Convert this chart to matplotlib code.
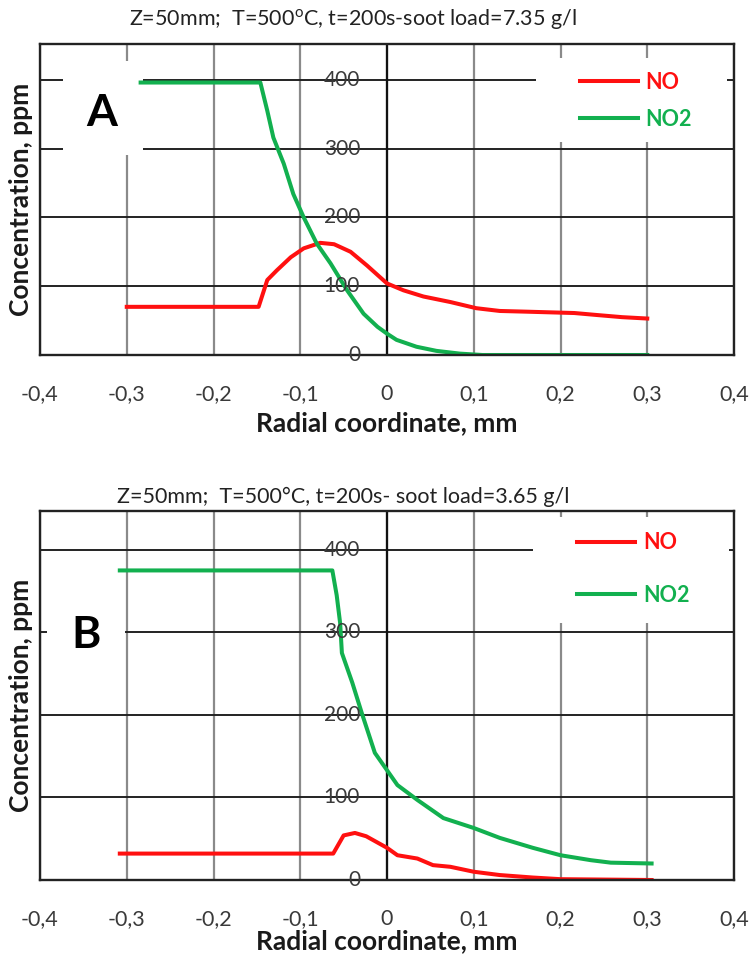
import matplotlib
matplotlib.use("Agg")
import matplotlib.pyplot as plt
from matplotlib.patches import Rectangle

plt.rcParams['font.family'] = ['Lato', 'DejaVu Sans']
plt.rcParams['mathtext.default'] = 'regular'

# Panel A data (soot load 7.35 g/l)
a_no_x = [-0.30, -0.148, -0.138, -0.127, -0.111, -0.096, -0.077, -0.061, -0.042,
          -0.023, 0.0, 0.019, 0.042, 0.073, 0.103, 0.13, 0.16, 0.216, 0.243, 0.271, 0.30]
a_no_y = [70, 70, 109, 123, 142, 155, 163, 161, 150,
          130, 104, 94, 85, 77, 68, 64, 63, 61, 58, 55, 53]
a_no2_x = [-0.284, -0.146, -0.138, -0.131, -0.119, -0.108, -0.096, -0.081, -0.065,
           -0.046, -0.027, -0.011, 0.0, 0.011, 0.034, 0.057, 0.084, 0.11, 0.30]
a_no2_y = [396, 396, 355, 316, 278, 234, 200, 162, 133,
           94, 60, 41, 31, 22, 12, 6, 2, 0, 0]

# Panel B data (soot load 3.65 g/l)
b_no_x = [-0.308, -0.062, -0.05, -0.037, -0.024, 0.0, 0.012, 0.035, 0.053, 0.073,
          0.1, 0.13, 0.168, 0.2, 0.305]
b_no_y = [32, 32, 54, 57, 53, 39, 30, 26, 18, 16, 10, 6, 3, 1, 0]
b_no2_x = [-0.308, -0.063, -0.058, -0.054, -0.052, -0.04, -0.029, -0.014, 0.0, 0.012,
           0.035, 0.065, 0.1, 0.13, 0.168, 0.2, 0.235, 0.258, 0.305]
b_no2_y = [375, 375, 345, 311, 275, 239, 202, 154, 133, 115,
           97, 75, 63, 51, 39, 30, 24, 21, 20]

x_ticks = [-0.4, -0.3, -0.2, -0.1, 0.0, 0.1, 0.2, 0.3, 0.4]
x_labels = ['-0,4', '-0,3', '-0,2', '-0,1', '0', '0,1', '0,2', '0,3', '0,4']
y_ticks = [0, 100, 200, 300, 400]

title_a = 'Z=50mm;  T=500$^{o}$C, t=200s-soot load=7.35 g/l'
title_b = 'Z=50mm;  T=500°C, t=200s- soot load=3.65 g/l'

RED = '#ff1010'
GREEN = '#12b04f'
TXT = '#3a3a3a'


def draw_panel(ax, ymax, no, no2, tag, tag_box, tag_pos, leg_box, leg_anchor,
               leg_space, xlab_pad):
    ax.set_xlim(-0.4, 0.4)
    ax.set_ylim(0, ymax)
    ax.set_xticks(x_ticks)
    ax.set_xticklabels(x_labels, fontsize=15.5, color=TXT)
    ax.set_yticks(y_ticks)
    ax.tick_params(axis='x', length=0, pad=21)
    ax.tick_params(axis='y', length=0, labelleft=False)
    ax.set_axisbelow(True)
    ax.xaxis.grid(True, color='#8a8a8a', lw=1.6)
    ax.yaxis.grid(True, color='#222222', lw=1.4)
    ax.axvline(0, color='#111111', lw=1.6, zorder=0.6)
    for s in ax.spines.values():
        s.set_linewidth(1.7)
        s.set_color('#222222')

    for v in y_ticks:
        ax.text(-0.031, v, str(v), ha='right', va='center', fontsize=15,
                color=TXT, zorder=3)

    # white boxes behind the panel letter and the legend
    for (x0, x1, y0, y1) in [tag_box, leg_box]:
        ax.add_patch(Rectangle((x0, y0), x1 - x0, y1 - y0, facecolor='white',
                               edgecolor='none', zorder=1))
    ax.text(tag_pos[0], tag_pos[1], tag, fontsize=32, fontweight='bold',
            ha='center', va='center', zorder=3)

    ax.plot(no[0], no[1], color=RED, lw=2.9, label='NO', zorder=2)
    ax.plot(no2[0], no2[1], color=GREEN, lw=2.9, label='NO2', zorder=2)

    leg = ax.legend(loc='center left', bbox_to_anchor=leg_anchor, frameon=False,
                    borderpad=0, borderaxespad=0, handlelength=2.7,
                    handletextpad=0.35, labelspacing=leg_space,
                    prop={'size': 15.5, 'weight': 'bold'})
    for t, c in zip(leg.get_texts(), [RED, GREEN]):
        t.set_color(c)

    ax.set_xlabel('Radial coordinate, mm', fontsize=19, fontweight='bold',
                  color='#1a1a1a', labelpad=xlab_pad)
    ax.set_ylabel('Concentration, ppm', fontsize=19, fontweight='bold',
                  color='#1a1a1a')
    ax.yaxis.set_label_coords(-0.01, 0.5)


fig = plt.figure(figsize=(7.51, 9.58), dpi=100)
ax_a = fig.add_axes([40 / 751, 1 - 355 / 958, 694 / 751, 311 / 958])
ax_b = fig.add_axes([40 / 751, 1 - 880 / 958, 694 / 751, 369 / 958])

draw_panel(ax_a, 452, (a_no_x, a_no_y), (a_no2_x, a_no2_y), 'A',
           (-0.3735, -0.281, 290, 427), (-0.3285, 352),
           (0.172, 0.392, 309, 432), (0.778, 0.818), 0.75, 5)
draw_panel(ax_b, 447, (b_no_x, b_no_y), (b_no2_x, b_no2_y), 'B',
           (-0.392, -0.302, 217, 394), (-0.347, 297),
           (0.168, 0.394, 311, 440), (0.774, 0.843), 1.45, 0)

fig.text(353 / 751, 1 - 19 / 958, title_a, fontsize=15.5, ha='center', va='center',
         color='#222222')
fig.text(343 / 751, 1 - 497 / 958, title_b, fontsize=15.5, ha='center', va='center',
         color='#222222')

fig.savefig('out.png', dpi=100)
